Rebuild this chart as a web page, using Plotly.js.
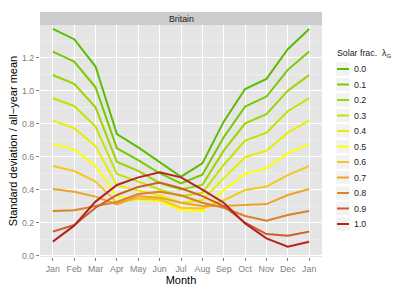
<!DOCTYPE html>
<html>
<head>
<meta charset="utf-8">
<script src="https://cdn.plot.ly/plotly-3.0.1.min.js"></script>
<style>html,body{margin:0;padding:0;background:#fff;}#chart{width:415px;height:290px;}</style>
</head>
<body>
<div id="chart"></div>
<script>
// ---- data ----
const months = ['Jan','Feb','Mar','Apr','May','Jun','Jul','Aug','Sep','Oct','Nov','Dec','Jan'];
const lambdaLabels = ['0.0','0.1','0.2','0.3','0.4','0.5','0.6','0.7','0.8','0.9','1.0'];
const lineColors = ['#5CBD00','#78C900','#9AD500','#C3E300','#E6EF00','#FFFF00','#F5C81C','#ECA526','#DD8226','#CC5C2A','#B52222'];
const sd_00 = [1.374,1.312,1.146,0.737,0.656,0.569,0.478,0.559,0.812,1.010,1.071,1.251,1.374];
const sd_01 = [1.237,1.176,1.020,0.650,0.579,0.499,0.438,0.490,0.717,0.903,0.964,1.126,1.237];
const sd_02 = [1.095,1.041,0.899,0.567,0.513,0.440,0.400,0.428,0.636,0.802,0.857,1.000,1.095];
const sd_03 = [0.954,0.907,0.782,0.494,0.448,0.400,0.360,0.380,0.549,0.697,0.745,0.875,0.954];
const sd_04 = [0.818,0.772,0.664,0.425,0.395,0.365,0.320,0.335,0.468,0.596,0.636,0.745,0.818];
const sd_05 = [0.677,0.644,0.543,0.360,0.340,0.330,0.276,0.270,0.397,0.495,0.529,0.620,0.677];
const sd_06 = [0.543,0.513,0.448,0.320,0.345,0.340,0.290,0.285,0.335,0.397,0.418,0.488,0.543];
const sd_07 = [0.403,0.387,0.357,0.310,0.360,0.350,0.320,0.300,0.300,0.306,0.312,0.367,0.403];
const sd_08 = [0.270,0.274,0.300,0.325,0.373,0.387,0.365,0.320,0.290,0.240,0.211,0.246,0.270];
const sd_09 = [0.145,0.185,0.290,0.367,0.416,0.442,0.408,0.360,0.300,0.199,0.130,0.120,0.145];
const sd_10 = [0.084,0.181,0.327,0.428,0.474,0.505,0.474,0.400,0.320,0.195,0.104,0.053,0.084];
const allSeries = [sd_00,sd_01,sd_02,sd_03,sd_04,sd_05,sd_06,sd_07,sd_08,sd_09,sd_10];
const yTickVals = [0,0.2,0.4,0.6,0.8,1.0,1.2];
const facetLabel = 'Britain';

// ---- layout geometry ----
const W = 415, H = 290;
const M = {l:40, r:93, t:25, b:33};
const PW = W - M.l - M.r, PH = H - M.t - M.b;
const px2x = px => (px - M.l) / PW;
const px2y = py => (H - M.b - py) / PH;
const FONT = '"Liberation Sans", Arial, Helvetica, sans-serif';

const xIdx = months.map((m, i) => i + 1);
const traces = allSeries.map((ys, i) => ({
  type: 'scatter', mode: 'lines',
  x: xIdx, y: ys,
  name: lambdaLabels[i],
  line: {color: lineColors[i], width: 2},
  showlegend: false, hoverinfo: 'skip'
}));

const shapes = [];
const annotations = [];
// facet strip
shapes.push({type:'rect', xref:'paper', yref:'paper', x0:0, x1:1, y0:1, y1:px2y(12),
  fillcolor:'#CCCCCC', line:{width:0}, layer:'below'});
annotations.push({xref:'paper', yref:'paper', x:0.5, y:px2y(18.5), text:facetLabel,
  showarrow:false, xanchor:'center', yanchor:'middle', font:{family:FONT, size:8.8, color:'#1A1A1A'}});

// custom legend (ggplot-like)
annotations.push({xref:'paper', yref:'paper', x:px2x(335), y:px2y(53.5),
  text:'Solar frac.  λ<sub>G</sub>', showarrow:false, xanchor:'left', yanchor:'middle',
  font:{family:FONT, size:8.8, color:'#1A1A1A'}});
const legTop = 69, legStep = 15.5;
lambdaLabels.forEach((lab, i) => {
  const cy = legTop + i * legStep;
  shapes.push({type:'rect', xref:'paper', yref:'paper',
    x0:px2x(335.5), x1:px2x(350), y0:px2y(cy - 7.2), y1:px2y(cy + 7.2),
    fillcolor:'#F2F2F2', line:{color:'#FFFFFF', width:1}});
  shapes.push({type:'line', xref:'paper', yref:'paper',
    x0:px2x(337), x1:px2x(349), y0:px2y(cy), y1:px2y(cy),
    line:{color:lineColors[i], width:2}});
  annotations.push({xref:'paper', yref:'paper', x:px2x(352), y:px2y(cy), text:lab,
    showarrow:false, xanchor:'left', yanchor:'middle',
    font:{family:FONT, size:8.8, color:'#1A1A1A'}});
});

const layout = {
  width: W, height: H,
  margin: M,
  paper_bgcolor: '#FFFFFF',
  plot_bgcolor: '#E5E5E5',
  font: {family: FONT},
  showlegend: false,
  xaxis: {
    range: [0.4, 13.6],
    tickmode: 'array', tickvals: xIdx, ticktext: months,
    showgrid: true, gridcolor: '#FFFFFF', gridwidth: 1,
    zeroline: false, showline: false,
    ticks: 'outside', ticklen: 3, tickcolor: '#7F7F7F', tickwidth: 1,
    tickfont: {family: FONT, size: 8.8, color: '#7F7F7F'},
    title: {text: 'Month', font: {family: FONT, size: 11, color: '#000000'}, standoff: 0},
    fixedrange: true
  },
  yaxis: {
    range: [-0.009, 1.398],
    tickmode: 'array', tickvals: yTickVals, ticktext: yTickVals.map(v => v.toFixed(1)),
    showgrid: true, gridcolor: '#FFFFFF', gridwidth: 1,
    minor: {tick0: 0, dtick: 0.1, showgrid: true, gridcolor: '#F2F2F2', gridwidth: 0.6, ticks: ''},
    zeroline: false, showline: false,
    ticks: 'outside', ticklen: 3, tickcolor: '#7F7F7F', tickwidth: 1,
    tickfont: {family: FONT, size: 8.8, color: '#7F7F7F'},
    title: {text: 'Standard deviation / all−year mean', font: {family: FONT, size: 11, color: '#000000'}, standoff: 2},
    fixedrange: true
  },
  shapes: shapes,
  annotations: annotations
};

Plotly.newPlot('chart', traces, layout, {displayModeBar: false, staticPlot: true});
</script>
</body>
</html>
